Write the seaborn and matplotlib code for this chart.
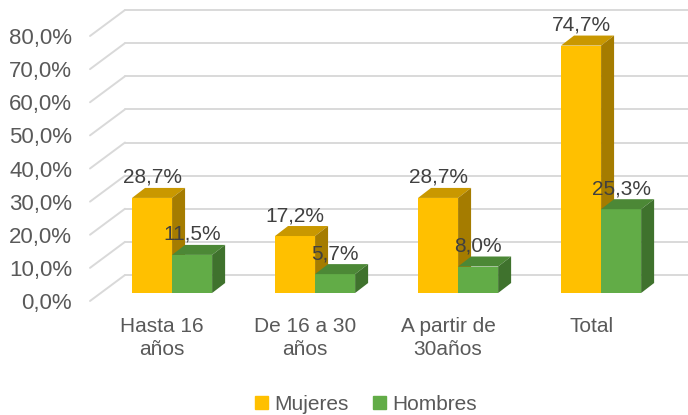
import pandas as pd
import seaborn as sns
import matplotlib.pyplot as plt
from matplotlib.patches import Polygon, Patch

# datos
categorias = ["Hasta 16\naños", "De 16 a 30\naños", "A partir de\n30años", "Total"]
series = ["Mujeres", "Hombres"]
mujeres = [28.7, 17.2, 28.7, 74.7]
hombres = [11.5, 5.7, 8.0, 25.3]
yticks = [0, 10, 20, 30, 40, 50, 60, 70, 80]

# colores de cara frontal, techo y lateral (efecto 3D tipo Excel)
frente = {"Mujeres": "#FFC000", "Hombres": "#62AC47"}
techo = {"Mujeres": "#C99800", "Hombres": "#4C8836"}
lado = {"Mujeres": "#A57C00", "Hombres": "#3F722D"}
gris = "#595959"

df = pd.DataFrame({
    "grupo": categorias * 2,
    "valor": mujeres + hombres,
    "sexo": [series[0]] * len(mujeres) + [series[1]] * len(hombres),
})

sns.set_theme(style="white")
plt.rcParams["font.family"] = ["Liberation Sans", "DejaVu Sans"]

W, H = 688, 415
fig = plt.figure(figsize=(W / 100, H / 100), dpi=100)
ax_w, ax_h = 563, 265
ax = fig.add_axes([101 / W, 122 / H, ax_w / W, ax_h / H])

sns.barplot(data=df, x="grupo", y="valor", hue="sexo", hue_order=series,
            palette=frente, width=0.56, saturation=1, linewidth=0, ax=ax)
ax.legend_.remove()
ax.set_xlim(-0.497, 3.44)
ax.set_ylim(0, 80)
ax.axis("off")

# pixeles -> unidades de datos
ux = (3.44 + 0.497) / ax_w
uy = 80 / ax_h

# rejilla con pared izquierda en perspectiva
tr = ax.get_yaxis_transform()
for v in yticks:
    ax.plot([-11 / ax_w, 24 / ax_w], [v - 8 * uy, v + 18 * uy], transform=tr,
            color="#d9d9d9", lw=1.4, clip_on=False, zorder=1)
    ax.plot([24 / ax_w, 1 + 24 / ax_w], [v + 18 * uy, v + 18 * uy], transform=tr,
            color="#d9d9d9", lw=1.4, clip_on=False, zorder=1)
    ax.text(-29 / ax_w, v - 8 * uy, f"{v:.1f}%".replace(".", ","), transform=tr,
            ha="right", va="center_baseline", fontsize=16, color=gris)

# caras superiores y laterales de las barras
dx, dy = 13 * ux, 10 * uy
for z, (cont, nivel) in enumerate(zip(ax.containers, series)):
    for bar in cont:
        x0 = bar.get_x()
        x1 = x0 + bar.get_width()
        h = bar.get_height()
        bar.set_zorder(2 + z)
        ax.add_patch(Polygon([(x0, h), (x1, h), (x1 + dx, h + dy), (x0 + dx, h + dy)],
                             closed=True, color=techo[nivel], lw=0, zorder=2 + z))
        ax.add_patch(Polygon([(x1, 0), (x1, h), (x1 + dx, h + dy), (x1 + dx, dy)],
                             closed=True, color=lado[nivel], lw=0, zorder=2 + z))
        ax.text(x0 + bar.get_width() / 2, h + 15 * uy, f"{h:.1f}%".replace(".", ","),
                ha="center", va="baseline", fontsize=15, color="#404040", zorder=5)

# etiquetas de categoria
for i, cat in enumerate(categorias):
    ax.text(i - 10 * ux, -24 * uy, cat, ha="center", va="top", fontsize=15,
            color=gris, linespacing=1.25, clip_on=False)

handles = [Patch(color=frente[s]) for s in series]
fig.legend(handles, series, loc="lower center", bbox_to_anchor=(0.532, -0.042), ncol=2,
           frameon=False, handlelength=0.6, handleheight=0.6, handletextpad=0.3,
           columnspacing=1.2, fontsize=15, labelcolor=gris)

fig.savefig("out.png", dpi=100)
